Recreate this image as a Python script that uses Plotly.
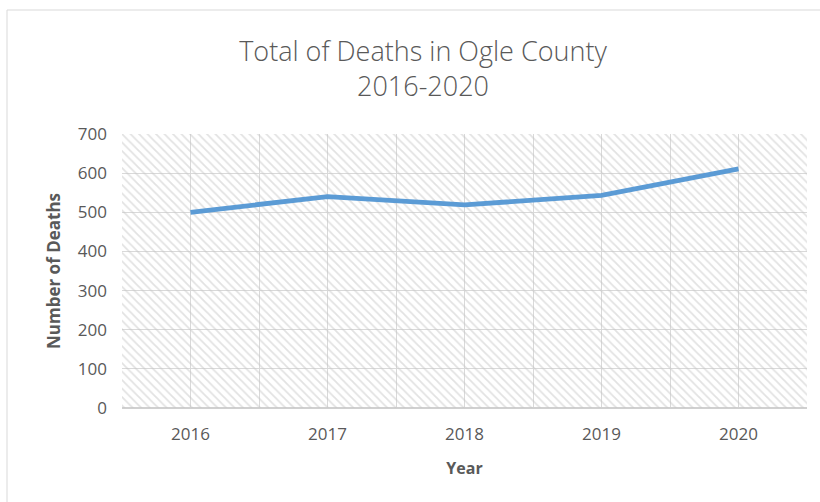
import plotly.graph_objects as go

# Annual death totals, Ogle County
years = ["2016", "2017", "2018", "2019", "2020"]
deaths = [500, 540, 519, 543, 611]

y_ticks = [0, 100, 200, 300, 400, 500, 600, 700]

W, H = 820, 502
L, R, T, B = 122, 13, 134, 94
PW, PH = W - L - R, H - T - B

xpos = list(range(len(years)))
# gridlines at category centres and boundaries; labels only at centres
grid_vals = [i / 2 - 0.5 for i in range(2 * len(years) + 1)]
grid_text = []
for v in grid_vals:
    grid_text.append(years[int(v)] if float(v).is_integer() and 0 <= v < len(years) else "")

fig = go.Figure()

# hatched plot-area background
x_lo, x_hi = -0.5, len(years) - 0.5
fig.add_trace(go.Scatter(
    x=[x_lo, x_hi, x_hi, x_lo, x_lo],
    y=[y_ticks[0], y_ticks[0], y_ticks[-1], y_ticks[-1], y_ticks[0]],
    fill="toself", mode="none", hoverinfo="skip", showlegend=False,
    fillcolor="rgba(0,0,0,0)",
    fillpattern=dict(shape="\\", size=6, solidity=0.3,
                     fgcolor="#c6c6c6", bgcolor="rgba(0,0,0,0)"),
))

fig.add_trace(go.Scatter(
    x=xpos, y=deaths, mode="lines",
    line=dict(color="#5B9BD5", width=4.8),
    showlegend=False,
))

grey = "#595959"
fig.update_layout(
    width=W, height=H,
    margin=dict(l=L, r=R, t=T, b=B),
    paper_bgcolor="white", plot_bgcolor="white",
    font=dict(family="Open Sans", color=grey),
    title=dict(
        text="Total of Deaths in Ogle County<br>2016-2020",
        x=423 / W, xanchor="center", xref="container",
        y=1 - 61 / H, yanchor="middle",
        font=dict(family="Open Sans", size=27, color=grey, weight=300),
    ),
    xaxis=dict(
        range=[x_lo, x_hi], tickmode="array",
        tickvals=grid_vals, ticktext=grid_text,
        showgrid=True, gridcolor="#d9d9d9", gridwidth=1,
        zeroline=False, showline=False, ticks="",
        tickfont=dict(size=17, color=grey), ticklabelstandoff=14,
        title=dict(text="<b>Year</b>", font=dict(size=16, color=grey), standoff=18),
    ),
    yaxis=dict(
        range=[y_ticks[0], y_ticks[-1]], tickmode="array", tickvals=y_ticks,
        showgrid=True, gridcolor="#d9d9d9", gridwidth=1,
        zeroline=True, zerolinecolor="#d0d0d0", zerolinewidth=1.5,
        showline=False, ticks="",
        tickfont=dict(size=17, color=grey), ticklabelstandoff=14,
        title=dict(text="<b>Number of Deaths</b>", font=dict(size=17, color=grey), standoff=12),
    ),
)

# chart border
fig.add_shape(
    type="rect", xref="paper", yref="paper",
    x0=(7 - L) / PW, x1=(W + 10 - L) / PW,
    y0=(PH + T - (H + 10)) / PH, y1=(PH + T - 10) / PH,
    line=dict(color="#d9d9d9", width=1), fillcolor="rgba(0,0,0,0)", layer="below",
)

fig.write_html("out.html")
